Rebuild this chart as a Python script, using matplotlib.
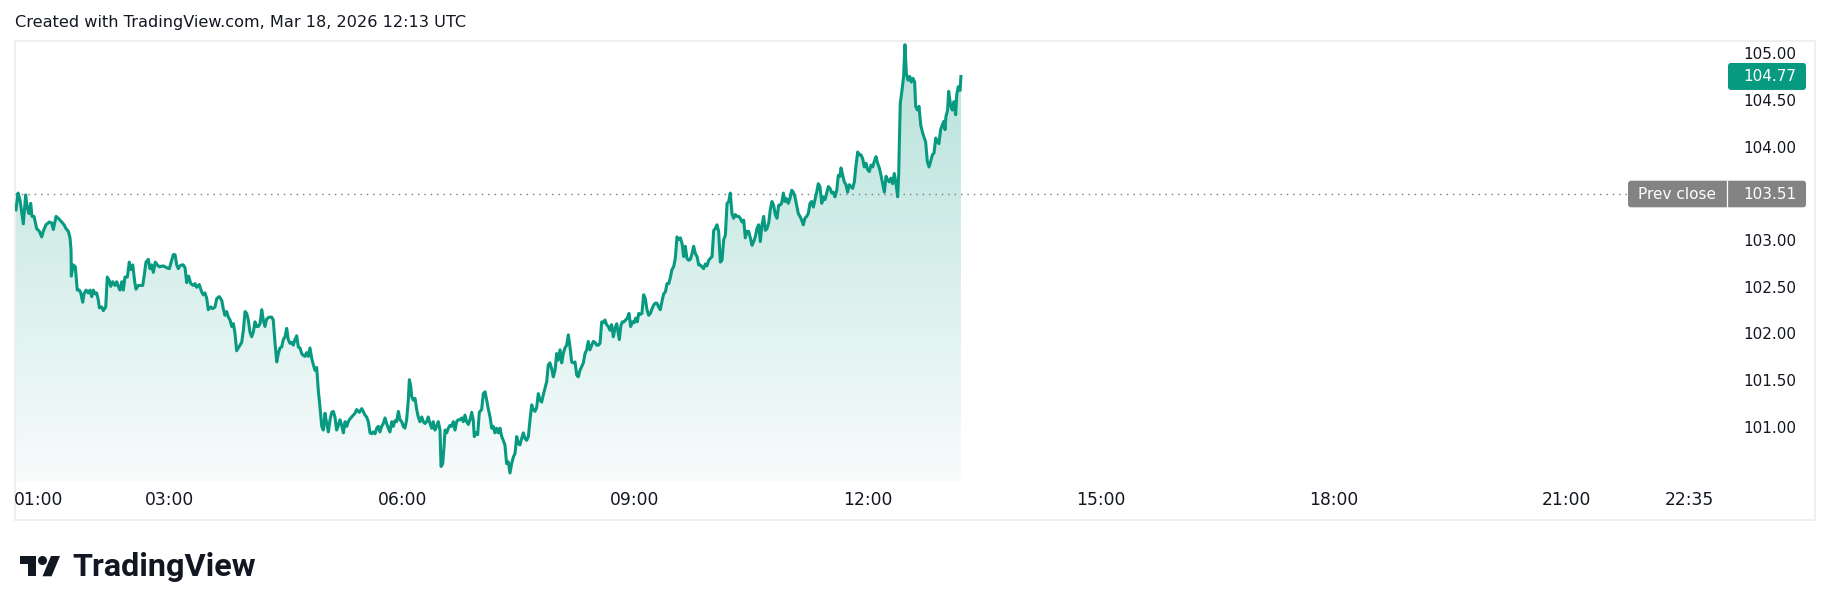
"""
TradingView style intraday line chart (Mar 18, 2026)
"""
import numpy as np
import matplotlib
matplotlib.use('Agg')
import matplotlib.pyplot as plt
from matplotlib.patches import Polygon, FancyBboxPatch, Rectangle, Circle
from matplotlib.transforms import blended_transform_factory

# ---------- data: minutes since 00:00 and price ----------
T1 = [61.5, 63.1, 64.6, 67.2, 69.0, 70.3, 71.6, 72.9, 73.9, 75.5,
      77.5, 79.6, 81.4, 82.6, 84.7, 87.3, 89.1, 90.4, 92.5, 94.2,
      96.9, 98.7, 100.2, 102.0, 103.3, 104.1, 104.3, 105.8, 107.4, 108.9,
      110.5, 111.6, 113.1, 114.1, 115.7, 117.4, 118.7, 120.1, 121.3, 122.6,
      123.9, 125.2, 126.0, 127.8, 129.0, 130.9, 132.1, 133.7, 134.8, 136.3,
      138.1, 139.4, 140.6, 141.9, 143.3, 144.5, 145.8, 147.6, 149.1, 150.2,
      151.8, 153.3, 154.3, 156.1, 157.9, 159.5, 160.7, 162.0, 163.8, 165.1,
      166.4, 167.7, 169.2, 170.8, 172.3, 175.4, 178.0, 180.1, 181.9, 183.1,
      184.5, 185.8, 187.0, 188.3, 189.6, 190.9, 192.2, 193.5, 195.0, 196.6,
      198.6, 199.9, 201.2, 203.2, 205.1, 206.3, 207.6, 209.0, 210.2]
P1 = [103.34, 103.52, 103.45, 103.19, 103.50, 103.36, 103.30, 103.41, 103.27, 103.27,
      103.14, 103.11, 103.05, 103.11, 103.18, 103.21, 103.20, 103.13, 103.27, 103.25,
      103.21, 103.18, 103.14, 103.11, 103.04, 102.91, 102.63, 102.75, 102.73, 102.48,
      102.48, 102.45, 102.35, 102.44, 102.48, 102.45, 102.48, 102.41, 102.48, 102.44,
      102.45, 102.37, 102.29, 102.30, 102.26, 102.30, 102.62, 102.58, 102.52, 102.57,
      102.53, 102.57, 102.52, 102.48, 102.57, 102.48, 102.62, 102.62, 102.78, 102.70,
      102.75, 102.57, 102.49, 102.53, 102.53, 102.53, 102.64, 102.78, 102.81, 102.71,
      102.75, 102.67, 102.78, 102.75, 102.73, 102.74, 102.72, 102.71, 102.80, 102.86,
      102.86, 102.75, 102.71, 102.74, 102.75, 102.75, 102.72, 102.56, 102.63, 102.55,
      102.53, 102.55, 102.51, 102.54, 102.46, 102.43, 102.45, 102.39, 102.27]

T2 = [212.0, 213.6, 215.4, 216.7, 218.7, 220.6, 221.8, 223.1, 224.4, 225.7,
      227.0, 228.3, 229.6, 230.8, 232.1, 233.4, 234.7, 236.0, 237.3, 238.6,
      239.9, 241.1, 242.4, 243.7, 245.0, 246.3, 247.6, 248.8, 250.2, 251.5,
      252.7, 254.0, 255.3, 257.1, 259.2, 260.4, 261.8, 263.1, 264.3, 265.6,
      266.9, 268.2, 269.5, 270.8, 272.0, 273.3, 274.7, 275.9, 277.2, 278.5,
      279.8, 281.1, 282.4, 283.6, 284.9, 286.2, 287.5, 288.8, 290.1, 291.4,
      292.7, 294.0, 295.2, 296.5, 297.9, 299.1, 300.4, 301.7, 303.0, 304.3,
      305.6, 306.8, 308.1, 309.4, 310.7, 312.0, 313.3, 314.6, 315.9, 317.2,
      318.4, 319.7, 322.3, 323.6, 324.9, 326.9, 328.8, 330.0, 331.3, 332.6,
      333.9, 335.2, 336.5, 337.7, 339.1, 340.4, 341.6, 342.9, 344.2, 345.5,
      346.8, 348.1, 349.3, 350.6, 352.0, 353.2, 354.5, 355.8, 357.1]
P2 = [102.30, 102.28, 102.30, 102.39, 102.41, 102.37, 102.28, 102.21, 102.25, 102.19,
      102.16, 102.09, 102.12, 102.02, 101.83, 101.86, 101.89, 101.92, 102.05, 102.25,
      102.23, 102.16, 102.03, 101.98, 102.03, 102.14, 102.09, 102.09, 102.12, 102.27,
      102.16, 102.09, 102.17, 102.19, 102.19, 102.16, 101.91, 101.71, 101.80, 101.86,
      101.87, 101.95, 101.98, 102.07, 101.95, 101.91, 101.92, 101.89, 101.95, 101.99,
      101.87, 101.86, 101.80, 101.78, 101.77, 101.81, 101.77, 101.86, 101.75, 101.68,
      101.62, 101.65, 101.41, 101.23, 101.02, 100.98, 101.16, 101.05, 100.96, 101.09,
      101.17, 101.18, 101.12, 100.98, 101.03, 101.09, 101.03, 100.95, 101.07, 101.02,
      101.07, 101.10, 101.14, 101.16, 101.20, 101.17, 101.21, 101.18, 101.14, 101.12,
      101.07, 100.95, 100.94, 100.96, 100.94, 101.00, 101.02, 100.96, 101.02, 101.05,
      101.11, 101.05, 101.00, 100.96, 101.07, 101.02, 101.08, 101.07, 101.18]

T3 = [358.4, 359.7, 360.9, 362.2, 363.5, 364.8, 365.6, 366.7, 367.4, 368.7,
      370.0, 371.3, 372.5, 373.8, 375.2, 376.4, 377.7, 379.0, 380.2, 381.6,
      382.9, 384.1, 385.4, 386.7, 388.0, 389.3, 390.1, 391.4, 392.4, 393.2,
      394.5, 395.7, 397.0, 398.3, 399.6, 400.9, 402.2, 403.4, 404.8, 406.1,
      407.3, 408.6, 409.9, 411.2, 412.5, 413.8, 415.0, 415.8, 417.1, 418.4,
      419.7, 421.5, 422.8, 424.1, 425.4, 426.6, 428.0, 429.3, 430.5, 431.8,
      433.1, 434.4, 435.7, 437.0, 438.2, 439.5, 440.8, 442.1, 443.4, 444.7,
      446.0, 447.3, 448.6, 449.8, 451.1, 452.4, 453.7, 455.0, 456.3, 457.6,
      458.9, 460.2, 461.4, 462.7, 464.0, 465.3, 466.6, 467.9, 469.2, 470.5,
      471.8, 473.0, 474.3, 475.6, 476.9, 478.2, 479.5, 480.7, 482.1, 483.4,
      484.6, 485.9, 487.2, 488.5, 489.8, 491.1, 492.3, 493.7, 495.0, 496.2,
      497.5, 498.8, 500.1, 501.4, 502.7, 503.9]
P3 = [101.09, 101.07, 101.02, 101.00, 101.09, 101.30, 101.52, 101.45, 101.34, 101.30,
      101.32, 101.20, 101.12, 101.07, 101.12, 101.07, 101.05, 101.07, 101.12, 101.05,
      101.00, 101.07, 100.98, 101.02, 101.07, 100.98, 100.59, 100.62, 100.80, 100.98,
      100.95, 101.00, 101.03, 101.02, 101.07, 100.98, 101.07, 101.09, 101.09, 101.11,
      101.07, 101.14, 101.07, 101.04, 101.09, 101.17, 101.09, 100.91, 100.95, 100.93,
      101.17, 101.20, 101.37, 101.39, 101.30, 101.21, 101.12, 101.00, 101.02, 100.95,
      101.00, 100.95, 101.00, 100.91, 100.87, 100.82, 100.62, 100.64, 100.52, 100.62,
      100.69, 100.73, 100.91, 100.84, 100.82, 100.89, 100.95, 100.89, 100.87, 100.91,
      101.09, 101.25, 101.20, 101.18, 101.22, 101.37, 101.30, 101.28, 101.36, 101.43,
      101.50, 101.68, 101.70, 101.64, 101.55, 101.62, 101.80, 101.73, 101.84, 101.70,
      101.80, 101.86, 101.89, 102.00, 101.87, 101.71, 101.70, 101.71, 101.57, 101.55,
      101.62, 101.66, 101.70, 101.80, 101.84, 101.93]

T4 = [505.2, 506.6, 507.8, 509.1, 510.4, 511.7, 513.0, 514.3, 515.5, 516.8,
      518.1, 519.4, 520.7, 522.0, 523.3, 524.6, 525.9, 527.1, 527.9, 529.0,
      530.2, 531.5, 532.8, 534.1, 535.4, 536.7, 538.0, 539.3, 540.6, 541.8,
      542.9, 544.1, 545.4, 546.7, 548.0, 549.3, 550.6, 551.9, 553.2, 554.5,
      555.7, 557.0, 558.3, 559.6, 560.9, 562.2, 563.5, 564.8, 566.1, 567.3,
      568.6, 569.9, 571.2, 572.5, 573.8, 575.1, 576.4, 577.7, 578.9, 580.2,
      581.5, 582.8, 584.1, 585.4, 586.7, 588.0, 589.3, 590.5, 591.8, 593.1,
      594.4, 595.7, 597.0, 598.3, 599.6, 600.9, 602.1, 603.4, 604.7, 606.0,
      607.3, 608.6, 609.9, 611.2, 612.5, 613.7, 615.0, 616.3, 617.6, 618.9,
      620.2, 621.4, 622.8, 624.1, 625.3, 626.6, 627.9, 629.2, 630.5, 631.8,
      633.0, 634.3, 635.6, 636.9, 638.2, 639.5, 640.8, 642.1, 643.4, 644.6,
      645.9, 647.2, 648.5, 649.8, 651.1]
P4 = [101.84, 101.89, 101.93, 101.92, 101.89, 101.89, 101.91, 102.14, 102.13, 102.16,
      102.11, 102.09, 102.05, 102.11, 101.98, 102.07, 102.12, 102.02, 101.95, 102.09,
      102.14, 102.14, 102.16, 102.18, 102.23, 102.09, 102.14, 102.13, 102.18, 102.14,
      102.23, 102.22, 102.23, 102.43, 102.39, 102.27, 102.21, 102.23, 102.28, 102.32,
      102.34, 102.34, 102.30, 102.27, 102.36, 102.44, 102.46, 102.55, 102.55, 102.61,
      102.70, 102.73, 102.82, 103.05, 103.02, 103.04, 102.98, 102.84, 102.95, 102.82,
      102.80, 102.81, 102.87, 102.95, 102.87, 102.84, 102.75, 102.75, 102.73, 102.71,
      102.76, 102.74, 102.80, 102.82, 102.84, 103.12, 103.14, 103.18, 103.11, 102.78,
      102.80, 103.02, 103.07, 103.41, 103.43, 103.52, 103.30, 103.25, 103.29, 103.27,
      103.27, 103.25, 103.21, 103.23, 103.04, 103.11, 103.11, 103.04, 102.96, 103.00,
      103.05, 103.14, 103.18, 103.00, 103.18, 103.27, 103.12, 103.14, 103.20, 103.34,
      103.43, 103.39, 103.29, 103.25, 103.39]

T5 = [652.1, 653.4, 654.7, 656.0, 657.3, 658.5, 659.8, 661.2, 662.4, 663.7,
      665.0, 666.3, 667.6, 668.9, 670.1, 671.4, 672.7, 674.0, 675.3, 676.6,
      677.9, 679.2, 680.5, 681.7, 683.0, 684.4, 685.6, 686.9, 688.2, 689.5,
      690.8, 692.1, 693.3, 694.6, 696.0, 697.2, 698.5, 699.3, 700.6, 701.8,
      703.1, 704.4, 705.7, 707.0, 708.3, 709.6, 710.9, 712.2, 713.4, 714.7,
      716.0, 717.3, 718.6, 719.9, 721.2, 722.5, 723.8, 725.0, 726.3, 727.6,
      728.9, 730.2, 731.5, 732.8, 734.1, 735.4, 736.6, 737.9, 739.2, 740.5,
      741.8, 743.1, 743.9, 744.4, 745.1, 746.4, 747.7, 748.7, 749.8, 751.1,
      752.4, 753.6, 754.9, 756.2, 757.0, 758.3, 759.6, 760.9, 762.1, 763.4,
      764.7, 766.0, 767.3, 768.6, 769.9, 771.2, 772.5, 773.7, 775.0, 776.3,
      777.6, 778.9, 779.7, 780.4, 781.7, 782.5, 784.0, 785.3, 786.6, 787.9,
      788.7, 789.9, 791.3, 792.0]
P5 = [103.39, 103.41, 103.52, 103.43, 103.46, 103.41, 103.46, 103.55, 103.53, 103.48,
      103.39, 103.30, 103.27, 103.23, 103.18, 103.25, 103.27, 103.30, 103.41, 103.43,
      103.37, 103.45, 103.53, 103.62, 103.59, 103.41, 103.48, 103.45, 103.52, 103.59,
      103.57, 103.52, 103.53, 103.48, 103.55, 103.71, 103.70, 103.79, 103.71, 103.64,
      103.61, 103.53, 103.61, 103.59, 103.57, 103.64, 103.82, 103.96, 103.93, 103.93,
      103.89, 103.80, 103.84, 103.77, 103.75, 103.82, 103.80, 103.86, 103.91, 103.84,
      103.79, 103.71, 103.62, 103.53, 103.70, 103.66, 103.64, 103.68, 103.62, 103.73,
      103.62, 103.48, 103.73, 104.07, 104.48, 104.62, 104.77, 105.11, 104.80, 104.73,
      104.77, 104.71, 104.75, 104.71, 104.45, 104.41, 104.45, 104.25, 104.18, 104.12,
      104.07, 103.86, 103.80, 103.86, 103.93, 103.95, 104.11, 104.07, 104.05, 104.20,
      104.25, 104.29, 104.20, 104.34, 104.41, 104.61, 104.46, 104.41, 104.50, 104.36,
      104.57, 104.66, 104.62, 104.77]

PREV_CLOSE = 103.51
PRICE_TICKS = [101.0, 101.5, 102.0, 102.5, 103.0, 104.0, 104.5, 105.0]
TIME_TICKS = [60, 180, 360, 540, 720, 900, 1080, 1260, 1355]
TIME_LABELS = ['01:00', '03:00', '06:00', '09:00', '12:00', '15:00', '18:00', '21:00', '22:35']
TITLE = 'Created with TradingView.com, Mar 18, 2026 12:13 UTC'

GREEN = '#089981'
GREY = '#838383'
TXT = '#131722'

t = np.array(T1 + T2 + T3 + T4 + T5)
p = np.array(P1 + P2 + P3 + P4 + P5)
last = p[-1]

# ---------- layout (pixels) ----------
W, H = 1830, 611
L, T, R, B = 15, 41, 1815, 520
fig = plt.figure(figsize=(W / 100, H / 100), dpi=100, facecolor='white')

ov = fig.add_axes([0, 0, 1, 1])
ov.set_xlim(0, W)
ov.set_ylim(H, 0)
ov.axis('off')

ax = fig.add_axes([L / W, (H - B) / H, (R - L) / W, (B - T) / H])
ax.patch.set_alpha(0)
ax.axis('off')
XLIM = (60.77, 1452.2)
YLIM = (100.016, 105.150)
FILL_BOTTOM = 100.42

# frame
ov.add_patch(Rectangle((L, T), R - L, B - T, fc='none', ec='#efefef', lw=1.5))

# gradient area
verts = np.column_stack([np.r_[t[0], t, t[-1]], np.r_[FILL_BOTTOM, p, FILL_BOTTOM]])
poly = Polygon(verts, closed=True, fc='none', ec='none')
ax.add_patch(poly)
grad = np.zeros((256, 1, 4))
grad[..., :3] = matplotlib.colors.to_rgb(GREEN)
grad[:, 0, 3] = np.linspace(0.30, 0.03, 256)
im = ax.imshow(grad, extent=[t[0], t[-1], FILL_BOTTOM, YLIM[1]], aspect='auto',
               origin='upper', zorder=1, interpolation='bilinear')
im.set_clip_path(poly)

# price line
ax.plot(t, p, color=GREEN, lw=2.2, solid_joinstyle='round', zorder=3)

# prev close dotted line
ax.axhline(PREV_CLOSE, xmin=0, xmax=(1628 - L) / (R - L), color='#7a7a7a',
           lw=1.0, linestyle=(0, (1, 3.6)), zorder=2)

ax.set_xlim(*XLIM)
ax.set_ylim(*YLIM)

# price scale labels
btr = blended_transform_factory(ax.transAxes, ax.transData)
xr = (1796 - L) / (R - L)
for v in PRICE_TICKS:
    ax.text(xr, v, f'{v:.2f}', transform=btr, ha='right', va='center',
            fontsize=11, color=TXT)

# time labels
ttr = blended_transform_factory(ax.transData, ax.transAxes)
for i, (m, lab) in enumerate(zip(TIME_TICKS, TIME_LABELS)):
    ax.text(m, (B - 500) / (B - T), lab, transform=ttr,
            ha='left' if i == 0 else 'center', va='center', fontsize=12.3, color=TXT)


def ypx(v):
    return H - ax.transData.transform((XLIM[0], v))[1]


# last price badge
yc = ypx(last)
ov.add_patch(FancyBboxPatch((1728, yc - 13.5), 78, 27, boxstyle='round,pad=0,rounding_size=3',
                            fc=GREEN, ec='none'))
ov.text(1796, yc, f'{last:.2f}', ha='right', va='center', fontsize=11, color='white')

# prev close badge
yp = ypx(PREV_CLOSE)
ov.add_patch(FancyBboxPatch((1628, yp - 13.3), 178, 26.6, boxstyle='round,pad=0,rounding_size=3',
                            fc=GREY, ec='none'))
ov.plot([1727, 1727], [yp - 13.3, yp + 13.3], color='white', lw=0.9)
ov.text(1677, yp, 'Prev close', ha='center', va='center', fontsize=11, color='white')
ov.text(1796, yp, f'{PREV_CLOSE:.2f}', ha='right', va='center', fontsize=11, color='white')

# header
ov.text(15, 22, TITLE, ha='left', va='center', fontsize=11.6, color=TXT)

# footer logo
s = 40 / 35.5


def lp(x, y):
    return (20 + x * s, 556 + (y - 4) * s)


ov.add_patch(Polygon([lp(14, 22), lp(7, 22), lp(7, 11), lp(0, 11), lp(0, 4), lp(14, 4)],
                     closed=True, fc=TXT, ec='none'))
ov.add_patch(Polygon([lp(28, 22), lp(20, 22), lp(27.5, 4), lp(35.5, 4)],
                     closed=True, fc=TXT, ec='none'))
cx, cy = lp(20, 8)
ov.add_patch(Circle((cx, cy), 4 * s, fc=TXT, ec='none'))
ov.text(72, 567, 'TradingView', ha='left', va='center', fontsize=23.3,
        fontweight='bold', family=['Roboto', 'DejaVu Sans'], color=TXT)

fig.savefig('out.png', dpi=100, facecolor='white')
